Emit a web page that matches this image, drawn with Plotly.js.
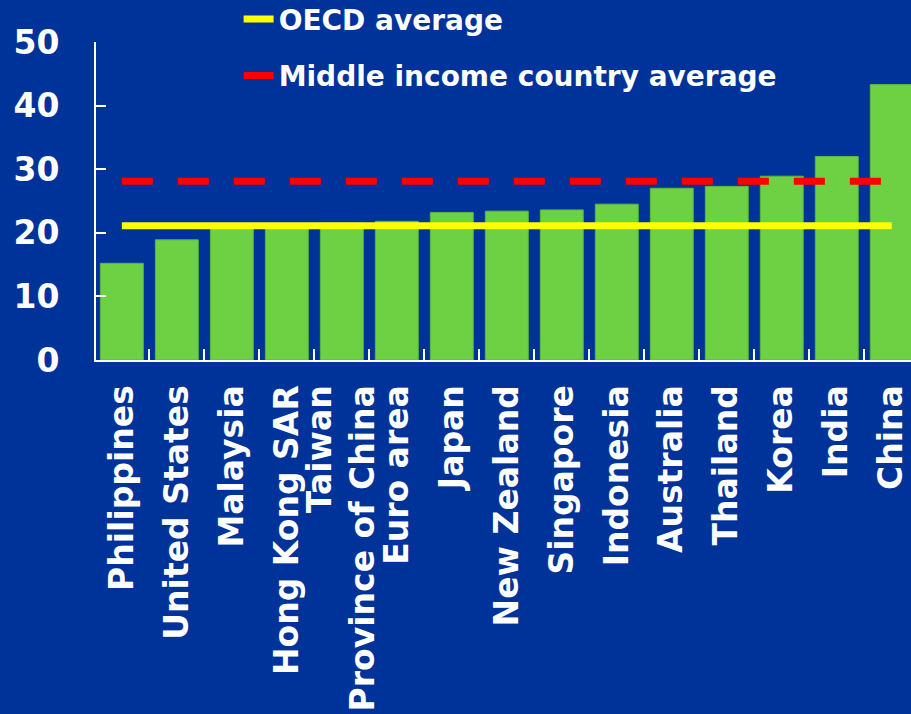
<!DOCTYPE html>
<html>
<head>
<meta charset="utf-8">
<script src="https://cdn.plot.ly/plotly-3.0.1.min.js"></script>
<style>html,body{margin:0;padding:0;background:#003399;}#chart{width:911px;height:714px;}</style>
</head>
<body>
<div id="chart"></div>
<script>
const categories = ["Philippines", "United States", "Malaysia", "Hong Kong SAR", "Taiwan<br>Province of China", "Euro area", "Japan", "New Zealand", "Singapore", "Indonesia", "Australia", "Thailand", "Korea", "India", "China"];
const values = [15.2, 18.9, 21.2, 21.3, 21.5, 21.8, 23.2, 23.4, 23.6, 24.5, 27.0, 27.3, 28.9, 32.0, 43.3];
const oecdAverage = 21.1;
const middleIncomeAverage = 28.1;
const yTicks = [0, 10, 20, 30, 40, 50];

const bold = {family: "DejaVu Sans, Verdana, sans-serif", color: "#ffffff", weight: 700};
const lineEnds = [categories[0], categories[categories.length - 1]];

const traces = [
  {
    type: "bar", x: categories, y: values, showlegend: false,
    marker: {color: "#6dd143", line: {color: "#5bb83a", width: 1}},
    hoverinfo: "x+y"
  },
  {
    type: "scatter", mode: "lines", name: "OECD average", legendgroup: "a",
    x: lineEnds, y: [oecdAverage, oecdAverage],
    line: {color: "#ffff00", width: 7}
  },
  {
    type: "scatter", mode: "lines", name: "Middle income country average", legendgroup: "b",
    x: lineEnds, y: [middleIncomeAverage, middleIncomeAverage],
    line: {color: "#ff0000", width: 7, dash: "31px,25px"}
  }
];

const layout = {
  width: 911, height: 714,
  paper_bgcolor: "#003399", plot_bgcolor: "#003399",
  margin: {l: 96, r: 0, t: 42, b: 354, pad: 0, autoexpand: false},
  bargap: 0.22,
  showlegend: true,
  legend: {
    x: 0.175, y: 1.15, xanchor: "left", yanchor: "top",
    bgcolor: "rgba(0,0,0,0)", font: Object.assign({size: 28}, bold),
    tracegroupgap: 17, traceorder: "grouped"
  },
  xaxis: {
    type: "category", range: [-0.47, 14.35], tickangle: -90, tickson: "boundaries",
    ticks: "inside", ticklen: 11, tickwidth: 2, tickcolor: "#ffffff",
    showline: true, linecolor: "#ffffff", linewidth: 2,
    showgrid: false, zeroline: false, automargin: false,
    tickfont: Object.assign({size: 33}, bold),
    ticklabelstandoff: 10
  },
  yaxis: {
    range: [0, 50], tickvals: yTicks, ticktext: yTicks.map(String),
    ticks: "inside", ticklen: 10, tickwidth: 2, tickcolor: "#ffffff",
    showline: true, linecolor: "#ffffff", linewidth: 2,
    showgrid: false, zeroline: false, automargin: false,
    tickfont: Object.assign({size: 33}, bold),
    ticklabelstandoff: 28
  }
};

Plotly.newPlot("chart", traces, layout, {displayModeBar: false, staticPlot: true});
</script>
</body>
</html>
